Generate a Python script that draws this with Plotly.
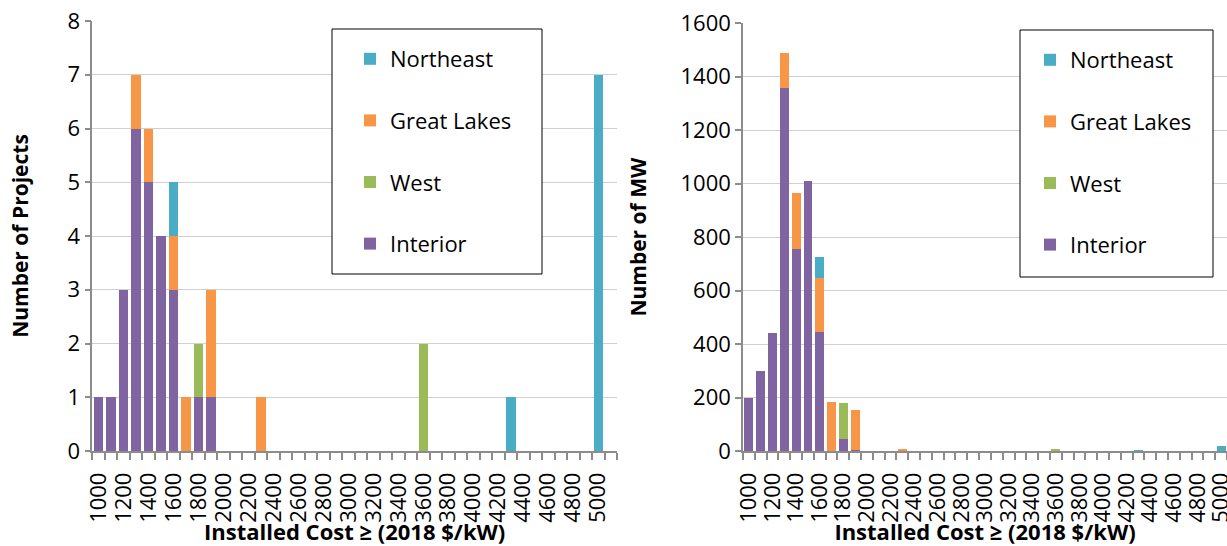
import plotly.graph_objects as go

W, H = 1227, 546

# Categories: installed cost bins (2018 $/kW)
costs = list(range(1000, 5001, 100))
tick_values = list(range(1000, 5001, 200))
tick_labels = [str(v) for v in tick_values]

# Number of projects by region (index 0 = 1000 ... index 40 = 5000)
proj_interior = [1, 1, 3, 6, 5, 4, 3, 0, 1, 1, 0, 0, 0, 0, 0, 0, 0, 0, 0, 0,
                 0, 0, 0, 0, 0, 0, 0, 0, 0, 0, 0, 0, 0, 0, 0, 0, 0, 0, 0, 0, 0]
proj_west = [0, 0, 0, 0, 0, 0, 0, 0, 1, 0, 0, 0, 0, 0, 0, 0, 0, 0, 0, 0,
             0, 0, 0, 0, 0, 0, 2, 0, 0, 0, 0, 0, 0, 0, 0, 0, 0, 0, 0, 0, 0]
proj_great_lakes = [0, 0, 0, 1, 1, 0, 1, 1, 0, 2, 0, 0, 0, 1, 0, 0, 0, 0, 0, 0,
                    0, 0, 0, 0, 0, 0, 0, 0, 0, 0, 0, 0, 0, 0, 0, 0, 0, 0, 0, 0, 0]
proj_northeast = [0, 0, 0, 0, 0, 0, 1, 0, 0, 0, 0, 0, 0, 0, 0, 0, 0, 0, 0, 0,
                  0, 0, 0, 0, 0, 0, 0, 0, 0, 0, 0, 0, 0, 1, 0, 0, 0, 0, 0, 0, 7]

# Capacity (MW) by region
mw_interior = [200, 300, 440, 1357, 754, 1010, 446, 0, 46, 3, 0, 0, 0, 0, 0, 0, 0, 0, 0, 0,
               0, 0, 0, 0, 0, 0, 0, 0, 0, 0, 0, 0, 0, 0, 0, 0, 0, 0, 0, 0, 0]
mw_west = [0, 0, 0, 0, 0, 0, 0, 0, 132, 0, 0, 0, 0, 0, 0, 0, 0, 0, 0, 0,
           0, 0, 0, 0, 0, 0, 3, 0, 0, 0, 0, 0, 0, 0, 0, 0, 0, 0, 0, 0, 0]
mw_great_lakes = [0, 0, 0, 133, 212, 0, 200, 185, 0, 150, 0, 0, 0, 3, 0, 0, 0, 0, 0, 0,
                  0, 0, 0, 0, 0, 0, 0, 0, 0, 0, 0, 0, 0, 0, 0, 0, 0, 0, 0, 0, 0]
mw_northeast = [0, 0, 0, 0, 0, 0, 80, 0, 0, 0, 0, 0, 0, 0, 0, 0, 0, 0, 0, 0,
                0, 0, 0, 0, 0, 0, 0, 0, 0, 0, 0, 0, 0, 2, 0, 0, 0, 0, 0, 0, 20]

series = [
    ("Interior", proj_interior, mw_interior, "#8064A2", 4),
    ("West", proj_west, mw_west, "#9BBB59", 3),
    ("Great Lakes", proj_great_lakes, mw_great_lakes, "#F79646", 2),
    ("Northeast", proj_northeast, mw_northeast, "#4BACC6", 1),
]

FONT = "'Open Sans', Lato, sans-serif"
AXIS_GRAY = "#8C8C8C"
GRID = "#D0D0D0"

fig = go.Figure()
for name, p, m, c, rank in series:
    fig.add_trace(go.Bar(x=costs, y=p, name=name, marker=dict(color=c, line=dict(width=0)),
                         xaxis="x", yaxis="y", legend="legend", legendgroup=name,
                         legendrank=rank))
    fig.add_trace(go.Bar(x=costs, y=m, name=name, marker=dict(color=c, line=dict(width=0)),
                         xaxis="x2", yaxis="y2", legend="legend2", legendgroup=name + "_mw",
                         legendrank=rank))


def px(x):
    return x / W


def py(y):
    return 1 - y / H


def xaxis_cfg(dom, rng, anchor):
    return dict(
        domain=dom, range=rng, anchor=anchor, automargin=False,
        tickmode="array", tickvals=tick_values, ticktext=tick_labels,
        tickangle=-90, ticks="", ticklabelstandoff=11, ticklabeloverflow="allow",
        tickfont=dict(size=22, color="black", family=FONT),
        showline=True, linecolor=AXIS_GRAY, linewidth=1.5,
        showgrid=False, zeroline=False,
        minor=dict(tickmode="linear", tick0=950, dtick=100, ticks="outside",
                   ticklen=7, tickcolor=AXIS_GRAY, tickwidth=1.5, showgrid=False),
        title=dict(text="<b>Installed Cost ≥ (2018 $/kW)</b>",
                   font=dict(size=22, color="black", family=FONT), standoff=1),
    )


def yaxis_cfg(dom, rng, dtick, anchor, title, standoff):
    return dict(
        domain=dom, range=rng, dtick=dtick, anchor=anchor, automargin=False,
        ticks="outside", ticklen=6, tickcolor=AXIS_GRAY, tickwidth=1.5,
        tickfont=dict(size=22, color="black", family=FONT),
        showline=True, linecolor=AXIS_GRAY, linewidth=1.5,
        showgrid=True, gridcolor=GRID, gridwidth=1.2, zeroline=False,
        title=dict(text="<b>" + title + "</b>",
                   font=dict(size=21, color="black", family=FONT), standoff=standoff),
    )


legend_common = dict(
    bgcolor="rgba(0,0,0,0)", borderwidth=0,
    font=dict(size=22, color="black", family=FONT),
    traceorder="grouped", tracegroupgap=30,
    xanchor="left", yanchor="top",
)

fig.update_layout(
    width=W, height=H,
    margin=dict(l=0, r=0, t=0, b=0, autoexpand=False),
    paper_bgcolor="white", plot_bgcolor="white",
    barmode="stack", bargap=0.25,
    font=dict(family=FONT, color="black"),
    xaxis=xaxis_cfg([px(92.3), px(617)], [950, 5150], "y"),
    yaxis=yaxis_cfg([py(451), py(21)], [0, 8], 1, "x", "Number of Projects", 33),
    xaxis2=xaxis_cfg([px(743), 1.0], [950, 5050], "y2"),
    yaxis2=yaxis_cfg([py(451), py(23.3)], [0, 1600], 200, "x2", "Number of MW", 28),
    legend=dict(x=px(350), y=py(38), **legend_common),
    legend2=dict(x=px(1030), y=py(39), **legend_common),
    shapes=[
        dict(type="rect", xref="paper", yref="paper", x0=px(332), x1=px(542),
             y0=py(274), y1=py(29), line=dict(color="black", width=1),
             fillcolor="white", layer="above"),
        dict(type="rect", xref="paper", yref="paper", x0=px(1020), x1=px(1213),
             y0=py(277), y1=py(30), line=dict(color="black", width=1),
             fillcolor="white", layer="above"),
    ],
)

fig.write_html("out.html", config={"displayModeBar": False},
               post_script="document.body.style.margin='0px';document.body.style.overflow='hidden';")
